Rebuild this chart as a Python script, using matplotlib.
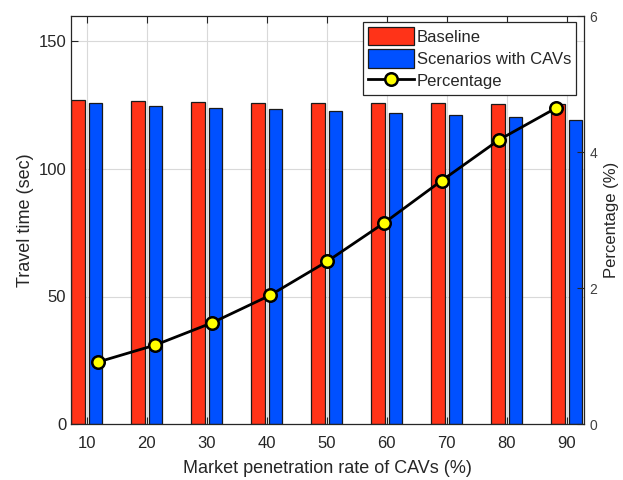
import matplotlib
matplotlib.use("Agg")
import matplotlib.pyplot as plt
import numpy as np
from matplotlib.lines import Line2D
from matplotlib.patches import Patch

plt.rcParams['font.family'] = ['Liberation Sans', 'DejaVu Sans']

# Data
penetration = [10, 20, 30, 40, 50, 60, 70, 80, 90]
baseline = [127.0, 126.6, 126.2, 125.7, 125.7, 125.7, 125.7, 125.3, 125.4]
with_cavs = [125.8, 124.9, 124.1, 123.7, 122.8, 121.9, 121.1, 120.3, 119.4]
percentage = [0.91, 1.16, 1.49, 1.89, 2.39, 2.96, 3.58, 4.18, 4.65]

red = '#FF3318'
blue = '#0050FF'
txt = '#262626'

fig = plt.figure(figsize=(6.23, 4.80), dpi=100)
pos = [71 / 623, 1 - 424 / 480, (584 - 71) / 623, (424 - 16) / 480]
ax = fig.add_axes(pos)

x = np.array(penetration, dtype=float)
bw = 2.25
ax.bar(x - 1.46, baseline, width=bw, color=red, edgecolor='#1a1a1a', linewidth=0.9, zorder=2)
ax.bar(x + 1.46, with_cavs, width=bw, color=blue, edgecolor='#1a1a1a', linewidth=0.9, zorder=2)

ax.set_xlim(7.4, 92.85)
ax.set_ylim(0, 160)
ax.set_xticks(penetration)
ax.set_yticks([0, 50, 100, 150])
ax.grid(True, color='#d9d9d9', linewidth=0.8, zorder=0)
ax.set_axisbelow(True)
ax.tick_params(direction='in', length=5, width=0.8, colors=txt, labelsize=12,
               top=True, right=False, labelcolor=txt)
ax.tick_params(axis='x', pad=9)
for s in ax.spines.values():
    s.set_color('#262626')
    s.set_linewidth(0.9)
ax.set_xlabel('Market penetration rate of CAVs (%)', fontsize=13, color=txt, labelpad=6)
ax.set_ylabel('Travel time (sec)', fontsize=13, color=txt, labelpad=3)

# Percentage curve on its own index-based x scale, right-hand y axis
ax2 = fig.add_axes(pos, frameon=False)
idx = np.arange(1, len(percentage) + 1)
ax2.plot(idx, percentage, color='black', linewidth=2, marker='o', markersize=9,
         markerfacecolor='#FFFF00', markeredgecolor='black', markeredgewidth=1.8, zorder=5)
ax2.set_xlim(0.535, 9.48)
ax2.set_ylim(0, 6)
ax2.set_yticks([0, 2, 4, 6])
ax2.set_xticks([])
ax2.yaxis.tick_right()
ax2.yaxis.set_label_position('right')
ax2.tick_params(axis='y', direction='in', length=5, width=0.8, colors=txt,
                labelsize=10, labelcolor='#404040', pad=4)
ax2.set_ylabel('Percentage (%)', fontsize=12, color=txt, labelpad=5)

handles = [Patch(facecolor=red, edgecolor='#1a1a1a', linewidth=0.9),
           Patch(facecolor=blue, edgecolor='#1a1a1a', linewidth=0.9),
           Line2D([0], [0], color='black', linewidth=2, marker='o', markersize=9,
                  markerfacecolor='#FFFF00', markeredgecolor='black', markeredgewidth=1.8)]
leg = ax2.legend(handles, ['Baseline', 'Scenarios with CAVs', 'Percentage'],
                 loc='upper right', bbox_to_anchor=(0.985, 0.985), fontsize=12,
                 frameon=True, fancybox=False, framealpha=1, edgecolor='#262626',
                 handlelength=2.8, handleheight=1.3, handletextpad=0.15,
                 borderpad=0.3, labelspacing=0.25, borderaxespad=0)
leg.get_frame().set_linewidth(0.9)
for t in leg.get_texts():
    t.set_color(txt)

fig.savefig('out.png', dpi=100)
